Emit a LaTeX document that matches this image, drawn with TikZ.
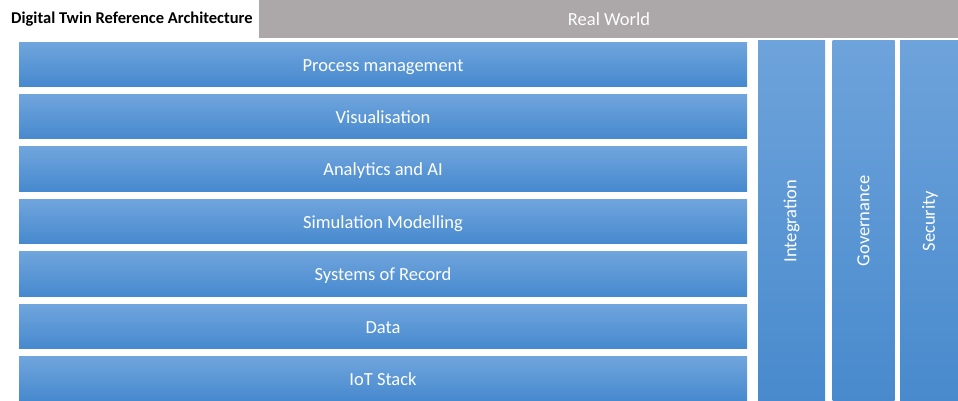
\documentclass[tikz,border=0pt]{standalone}
\usepackage{fontspec}
\setmainfont{Carlito}
\definecolor{layertop}{RGB}{112,165,221}
\definecolor{layerbot}{RGB}{70,137,206}
\definecolor{coltop}{RGB}{110,163,219}
\definecolor{colbot}{RGB}{72,138,205}
\definecolor{realgray}{RGB}{172,167,169}
\tikzset{labeltext/.style={text=white,font=\fontsize{18.5}{21}\selectfont,text height=13.4pt,text depth=0pt}}
\begin{document}
\begin{tikzpicture}[x=1pt,y=-1pt]

        \useasboundingbox (0,0) rectangle (958,400);

        \node[font=\bfseries\fontsize{16.5}{19}\selectfont,anchor=west,inner sep=0pt] (title) at (11,19) {Digital Twin Reference Architecture};
        \node[fill=realgray,labeltext,
              minimum width=700pt,minimum height=38pt,inner sep=0pt] (real) at (609,19) {Real World};

        \begin{scope}[every node/.style={rectangle,top color=layertop,bottom color=layerbot,
              labeltext,minimum width=728pt,minimum height=44.5pt,inner sep=0pt}]
          \node (proc) at (383,64.3)  {Process management};
          \node (vis)  at (383,116.7) {Visualisation};
          \node (ai)   at (383,169.1) {Analytics and AI};
          \node (sim)  at (383,221.5) {Simulation Modelling};
          \node (sor)  at (383,273.9) {Systems of Record};
          \node (data) at (383,326.3) {Data};
          \node (iot)  at (383,378.7) {IoT Stack};
        \end{scope}

        \begin{scope}[every node/.style={rectangle,top color=coltop,bottom color=colbot,
              minimum height=362pt,inner sep=0pt}]
          \node[minimum width=67pt] (integ) at (791.5,221) {};
          \node[minimum width=62pt] (gov)   at (863.5,221) {};
          \node[minimum width=60pt] (sec)   at (930,221)   {};
        \end{scope}

        \begin{scope}[every node/.style={rotate=90,text=white,font=\fontsize{18.5}{21}\selectfont}]
          \node (integtxt) at (integ) {Integration};
          \node (govtxt)   at (gov)   {Governance};
          \node (sectxt)   at (sec)   {Security};
        \end{scope}

      \end{tikzpicture}
\end{document}
